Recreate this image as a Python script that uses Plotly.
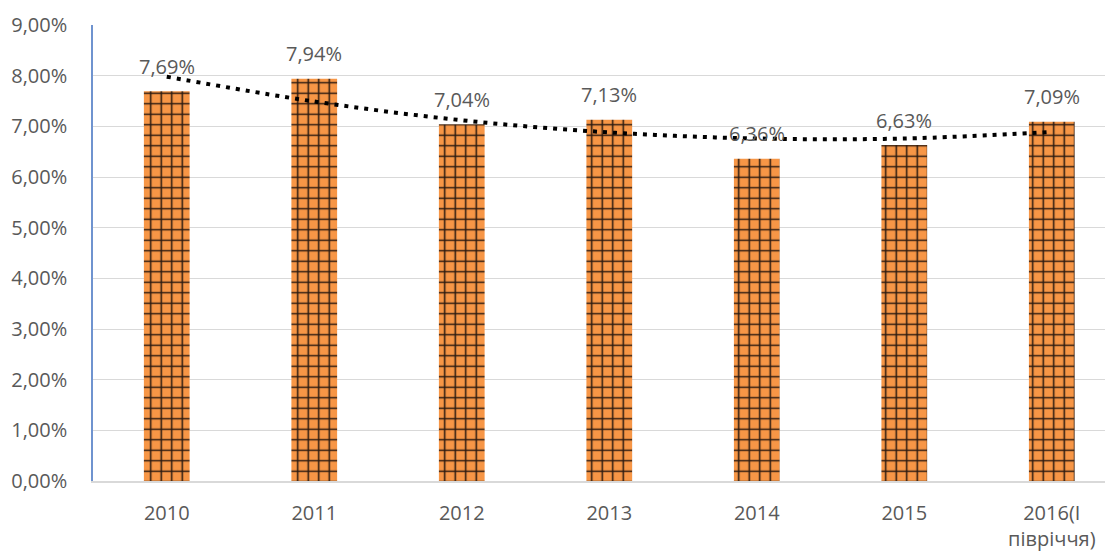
import plotly.graph_objects as go

categories = ["2010", "2011", "2012", "2013", "2014", "2015", "2016(I<br>півріччя)"]
values = [0.0769, 0.0794, 0.0704, 0.0713, 0.0636, 0.0663, 0.0709]
trend = [0.0798, 0.0749, 0.0712, 0.0688, 0.0676, 0.0676, 0.0689]
yticks = [0.0, 0.01, 0.02, 0.03, 0.04, 0.05, 0.06, 0.07, 0.08, 0.09]

FONT = "Open Sans"
TXT = "#595959"
FS = 20

fig = go.Figure()
fig.add_trace(go.Bar(
    x=categories, y=values, width=0.31,
    marker=dict(
        color="#F79646",
        line=dict(width=0),
        pattern=dict(shape="+", fgcolor="#2b1a10", bgcolor="#F79646",
                     size=10.5, solidity=0.27, fillmode="replace"),
    ),
    hoverinfo="skip", showlegend=False,
))
fig.add_trace(go.Scatter(
    x=categories, y=trend, mode="lines",
    line=dict(color="black", width=4, dash="4px,6px", shape="spline"),
    hoverinfo="skip", showlegend=False,
))
for i, v in enumerate(values):
    fig.add_annotation(x=i, y=v, xref="x", yref="y",
                       text=f"{v*100:.2f}%".replace(".", ","),
                       showarrow=False, yanchor="middle", yshift=25,
                       font=dict(family=FONT, size=FS, color=TXT))

fig.update_layout(
    width=1105, height=543,
    margin=dict(l=85, r=0, t=17, b=70),
    plot_bgcolor="white", paper_bgcolor="white",
    separators=", ",
    font=dict(family=FONT, size=FS, color=TXT),
    xaxis=dict(type="category", range=[-0.5, 6.415], showgrid=False, showline=True,
               linecolor="#d9d9d9", linewidth=1.5, ticks="", automargin=False,
               ticklabelstandoff=13, tickfont=dict(size=FS, color=TXT)),
    yaxis=dict(range=[0, 0.09], tickvals=yticks, tickformat=".2%",
               showgrid=True, gridcolor="#d9d9d9", gridwidth=1.3,
               showline=True, linecolor="#6f93cf", linewidth=1.5,
               zeroline=False, ticks="", ticklabelstandoff=20, automargin=False,
               tickfont=dict(size=FS, color=TXT)),
)

fig.write_html("out.html")
